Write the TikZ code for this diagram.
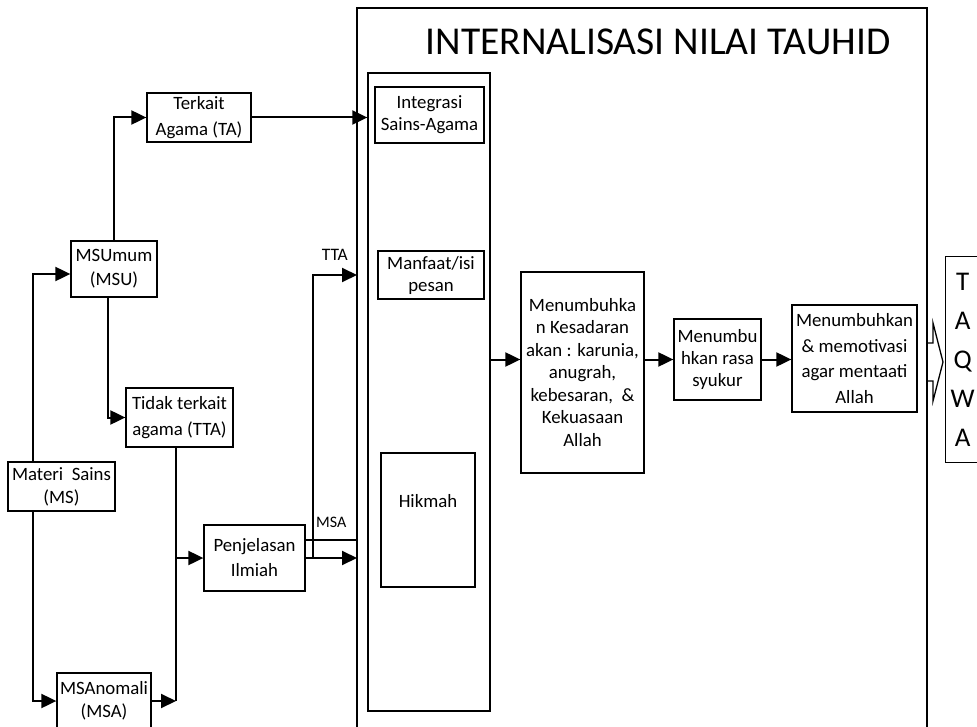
\documentclass[tikz,border=0pt]{standalone}
\usepackage{fontspec}
\setmainfont{Carlito}
\usetikzlibrary{arrows.meta}
\newcommand{\ukuran}[2]{\fontsize{#1}{#2}\selectfont}

\begin{document}
\begin{tikzpicture}[x=1pt,y=-1pt,
  kotak/.style={draw, line width=1.3pt, align=center, inner sep=0pt, font=\ukuran{18.8}{25}},
  garis/.style={line width=2pt},
  panah/.style={line width=2pt, -{Triangle[length=15pt,width=14pt]}}]
 \useasboundingbox (0,0) rectangle (977,727);

	% Materi sains
 \node[kotak, minimum width=107pt, minimum height=49pt, font=\ukuran{18.8}{23}] (ms) at (61.5,486.5) {Materi~ Sains\\(MS)};
 \node[kotak, minimum width=86pt, minimum height=56pt, font=\ukuran{18.8}{24}] (msu) at (114,269) {MSUmum\\(MSU)};
 \node[kotak, minimum width=94pt, minimum height=56pt, font=\ukuran{18.8}{23}] (msa) at (104,701) {MSAnomali\\(MSA)};
 \node[kotak, minimum width=104pt, minimum height=49pt, font=\ukuran{18.8}{26}] (ta) at (199,117.5) {Terkait\\Agama (TA)};
 \node[kotak, minimum width=107pt, minimum height=59pt, font=\ukuran{18.8}{26}] (tta) at (179.5,417.5) {Tidak terkait\\agama (TTA)};
 \node[kotak, minimum width=101pt, minimum height=66pt] (penj) at (254.5,558) {Penjelasan\\Ilmiah};

	% Internalisasi
 \coordinate (kiri) at (357,8);
 \coordinate (kanan) at (927,8);
 \draw[line width=1.3pt] (kiri |- 0,727) -- (kiri) -- (kanan) -- (kanan |- 0,727);
 \node[font=\ukuran{39.5}{42}] (judul) at (658,42) {INTERNALISASI NILAI TAUHID};
 \node[kotak, minimum width=122pt, minimum height=638pt] (col) at (429,392) {};
 \node[kotak, minimum width=109pt, minimum height=56pt, font=\ukuran{18.8}{22}] (integ) at (429.5,115) {Integrasi\\Sains-Agama};
 \node[kotak, minimum width=106pt, minimum height=48pt, font=\ukuran{18.8}{22}] (manf) at (431,275) {Manfaat/isi\\pesan};
 \node[kotak, minimum width=94pt, text height=54pt, text depth=80pt] (hik) at (428,520) {Hikmah};
 \node[kotak, minimum width=123pt, minimum height=201pt, font=\ukuran{18.8}{22.5}] (kes) at (582.5,372.5)
   {Menumbuhka\\n Kesadaran\\akan : karunia,\\anugrah,\\kebesaran,~ \&\\Kekuasaan\\Allah};
 \node[kotak, minimum width=87pt, minimum height=81pt, font=\ukuran{18.8}{21.7}] (syk) at (717.5,359.5) {Menumbu\\hkan rasa\\syukur};
 \node[kotak, minimum width=125pt, minimum height=107pt, font=\ukuran{18.8}{25.6}] (mot) at (854.5,358.5)
   {Menumbuhkan\\\& memotivasi\\agar mentaati\\Allah};
 \node[kotak, anchor=north west, text width=34pt, minimum height=206pt,
   font=\ukuran{27}{39}] (taqwa) at (945,256) {T\\A\\Q\\W\\A};

	% Panah kiri
 \draw[panah] ([xshift=-28.5pt]ms.north) |- ([yshift=-5pt]msu.west);
 \draw[panah] ([xshift=-28.5pt]ms.south) |- (msa.west);
 \draw[panah] (msu.north) |- (ta.west);
 \draw[panah] ([xshift=-6pt]msu.south) |- (tta.west);
 \draw[garis] ([xshift=-3.5pt]tta.south) -- ++(0,253) coordinate (sambung);
 \draw[panah] (msa.east) -- (msa.east -| sambung);
 \draw[panah] (sambung |- penj.west) -- (penj.west);
 \draw[panah] (ta.east) -- (ta.east -| col.west);
 \draw[panah] (penj.east) -- (penj.east -| kiri);
 \draw[panah] ([xshift=7pt]penj.east) |- (kiri |- manf.west)
   node[pos=0.75, above=13pt, inner sep=0pt, font=\ukuran{17.5}{18}] {TTA};
 \draw[line width=1.3pt] ([yshift=18pt]penj.east) coordinate (m1) -- (m1 -| kiri)
   node[midway, above=12pt, inner sep=0pt, font=\ukuran{16}{18}] {MSA};

	% Panah kanan
 \draw[panah] (col.east |- syk.west) -- (kes.west |- syk.west);
 \draw[panah] (kes.east |- syk.west) -- (syk.west);
 \draw[panah] (syk.east) -- (syk.east -| mot.west);
 \draw[line width=1.3pt] (927,343) -- (933,343) -- (933,323) -- (943,362) -- (933,401) -- (933,381) -- (927,381);

\end{tikzpicture}
\end{document}
